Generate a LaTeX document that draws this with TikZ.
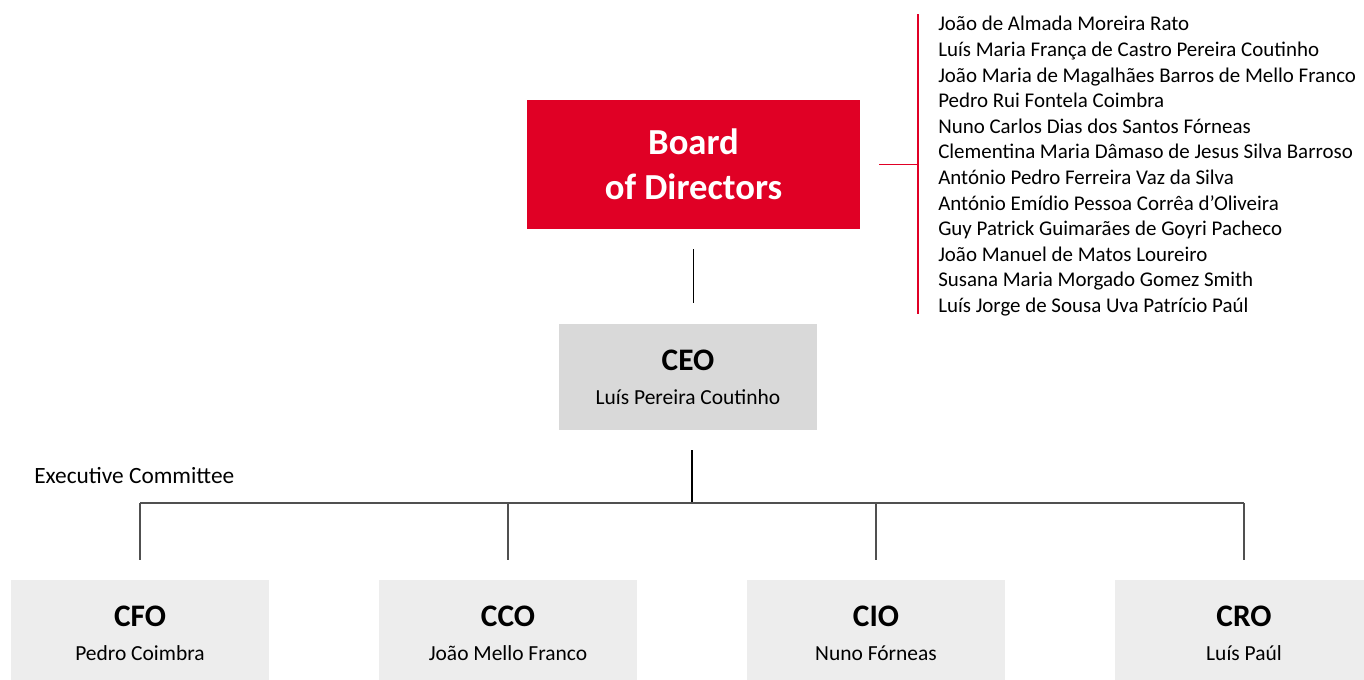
\documentclass[tikz,border=0pt]{standalone}
\usepackage{fontspec}
\setmainfont{Carlito}
\usetikzlibrary{positioning}
\definecolor{bcpred}{HTML}{E00025}
\definecolor{ceogray}{HTML}{D9D9D9}
\definecolor{execgray}{HTML}{EDEDED}
\definecolor{busgray}{HTML}{505050}
\tikzset{x=0.75pt, y=-0.75pt, % one unit is one pixel, y runs downward
boardbox/.style={fill=bcpred, text=white, inner sep=0, align=center,
  minimum width=249.75pt, minimum height=96.75pt,
  font=\fontsize{27.5}{33.75}\selectfont\bfseries}, % the red box on top
headbox/.style={fill=ceogray, inner sep=0, align=center,
  minimum width=193.5pt, minimum height=79.5pt,
  font=\fontsize{16.1}{25.5}\selectfont}, % grey role boxes
execbox/.style={headbox, fill=execgray},
link/.style={line width=0.8pt, black},
busline/.style={line width=0.8pt, busgray},
redline/.style={line width=0.8pt, bcpred},
namelist/.style={inner sep=0, align=left, font=\fontsize{15.7}{19.2}\selectfont},
}
\newcommand{\roletitle}[1]{{\fontsize{23.5}{25.5}\selectfont\bfseries #1}}

\begin{document}
\begin{tikzpicture}
    \useasboundingbox (0,0) rectangle (1364,679);
    \node[boardbox] (board) at (693.5,164.5) {Board\\of Directors};
    \node[headbox] (ceo) at (688,377) {\roletitle{CEO}\\Luís Pereira Coutinho};
    \node[execbox] (cfo) at (140,633) {\roletitle{CFO}\\Pedro Coimbra};
    \node[execbox] (cco) at (508,633) {\roletitle{CCO}\\João Mello Franco};
    \node[execbox] (cio) at (876,633) {\roletitle{CIO}\\Nuno Fórneas};
    \node[execbox] (cro) at (1244,633) {\roletitle{CRO}\\Luís Paúl};
    \node[anchor=base west, inner sep=0, font=\fontsize{17.5}{20}\selectfont] (exec) at (34,483) {Executive Committee};
    \node[namelist, anchor=north west] (members) at (938,16) {João de Almada Moreira Rato\\
      Luís Maria França de Castro Pereira Coutinho\\
      João Maria de Magalhães Barros de Mello Franco\\
      Pedro Rui Fontela Coimbra\\
      Nuno Carlos Dias dos Santos Fórneas\\
      Clementina Maria Dâmaso de Jesus Silva Barroso\\
      António Pedro Ferreira Vaz da Silva\\
      António Emídio Pessoa Corrêa d’Oliveira\\
      Guy Patrick Guimarães de Goyri Pacheco\\
      João Manuel de Matos Loureiro\\
      Susana Maria Morgado Gomez Smith\\
      Luís Jorge de Sousa Uva Patrício Paúl};
    % red bracket to the board members
    \coordinate (bracetop) at (918,14);
    \coordinate (bracebot) at (918,314);
    \draw[redline] (bracetop) -- (bracebot);
    \draw[redline, shorten <=14.25pt] (board.east) -- (board.east -| bracetop);
    % board to ceo to the committee
    \coordinate (bus) at (692,503);
    \draw[link, shorten <=15pt, shorten >=15.75pt] (board.south) -- (board.south |- ceo.north);
    \draw[link, shorten <=15pt] (ceo.south -| bus) -- (bus);
    \draw[busline] (cfo.north |- bus) -- (cro.north |- bus);
    \foreach \r in {cfo,cco,cio,cro}
      \draw[busline, shorten >=15pt] (\r.north |- bus) -- (\r.north);
\end{tikzpicture}
\end{document}
